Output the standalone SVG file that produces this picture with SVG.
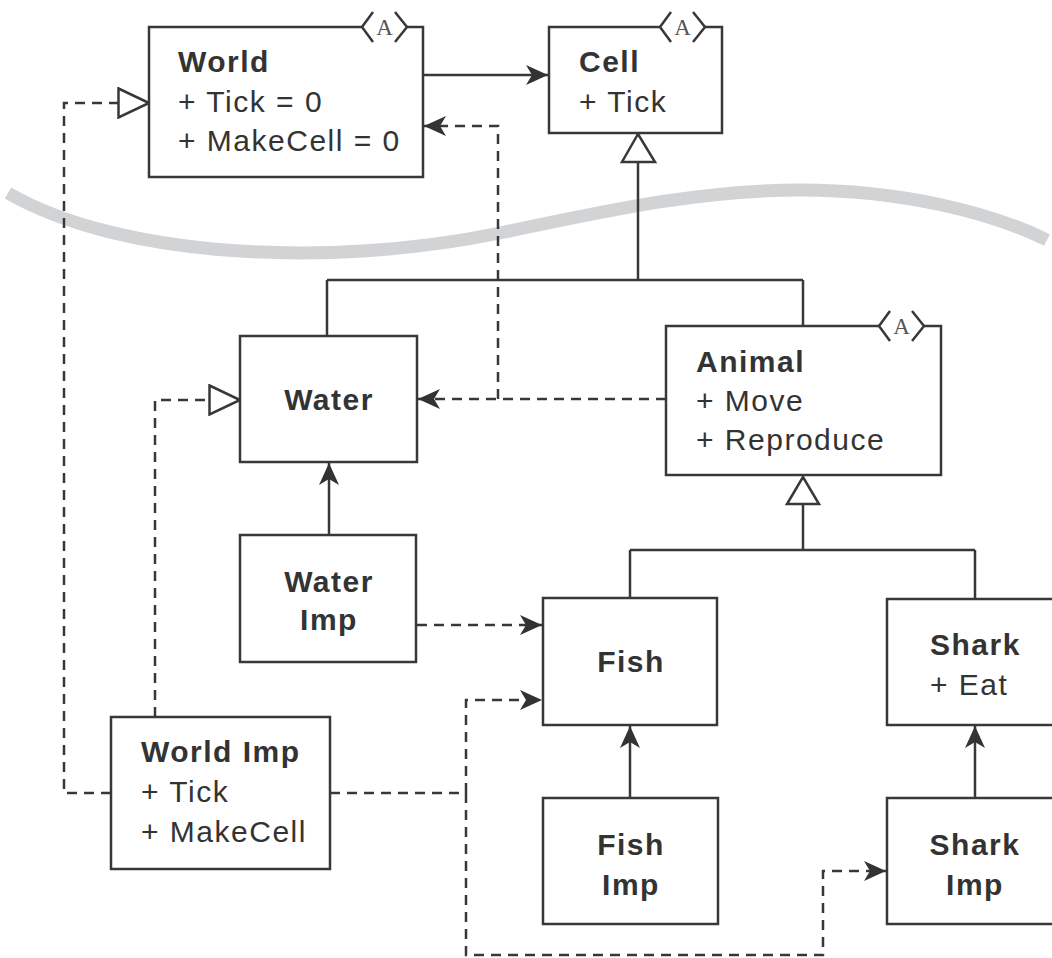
<svg xmlns="http://www.w3.org/2000/svg" width="1052" height="958" viewBox="0 0 1052 958">
<style>
.box{fill:#fff;stroke:#383838;stroke-width:2.5}
.ln{fill:none;stroke:#383838;stroke-width:2.5}
.dash{fill:none;stroke:#383838;stroke-width:2.5;stroke-dasharray:10 7}
.t{font-family:"Liberation Sans",Arial,sans-serif;font-size:30px;letter-spacing:1.5px;fill:#333}
.b{font-weight:bold}
.m{text-anchor:middle}
.abs{fill:#fff;stroke:none}
.brk{fill:none;stroke:#383838;stroke-width:2.5}
.a{font-family:"Liberation Serif","Times New Roman",serif;font-size:23px;fill:#555;text-anchor:middle}
.tri{fill:#fff;stroke:#383838;stroke-width:2.5}
</style>
<defs>
<marker id="arr" viewBox="0 0 22 20" refX="22" refY="10" markerWidth="22" markerHeight="20" markerUnits="userSpaceOnUse" orient="auto">
<path d="M0,0 L22,10 L0,20 L6,10 Z" fill="#333"/>
</marker>
<marker id="real" viewBox="0 0 34 32" refX="32" refY="16" markerWidth="34" markerHeight="32" markerUnits="userSpaceOnUse" orient="auto">
<path d="M1.5,1.5 L32,16 L1.5,30.5 Z" fill="#fff" stroke="#383838" stroke-width="2.5"/>
</marker>
</defs>
<rect width="1052" height="958" fill="#fff"/>
<path id="wave" d="M 8 193 C 120 258, 330 268, 500 233 C 610 210, 700 190, 800 190 C 900 190, 990 212, 1047 240" fill="none" stroke="#d2d3d5" stroke-width="13"/>
<g id="connectors">
<path class="ln" d="M423 75 L548 75" marker-end="url(#arr)"/>
<polygon class="tri" points="638,134 622,162 655,162"/>
<path class="ln" d="M638 162 L638 280 M327 280 L803 280 M327 280 L327 336 M803 280 L803 326"/>
<polygon class="tri" points="803,477 787,504 819,504"/>
<path class="ln" d="M803 504 L803 550 M630 550 L975 550 M630 550 L630 598 M975 550 L975 599"/>
<path class="ln" d="M329 535 L329 463" marker-end="url(#arr)"/>
<path class="ln" d="M630 798 L630 726" marker-end="url(#arr)"/>
<path class="ln" d="M975 798 L975 726" marker-end="url(#arr)"/>
<path class="dash" d="M666 399 L418 399" marker-end="url(#arr)"/>
<path class="dash" d="M498 399 L498 126 L424 126" marker-end="url(#arr)"/>
<path class="dash" d="M111 793 L64 793 L64 103 L149 103" marker-end="url(#real)"/>
<path class="dash" d="M155 717 L155 400 L240 400" marker-end="url(#real)"/>
<path class="dash" d="M417 625 L542 625" marker-end="url(#arr)"/>
<path class="dash" d="M330 793 L466 793"/>
<path class="dash" d="M466 793 L466 700 L542 700" marker-end="url(#arr)"/>
<path class="dash" d="M466 793 L466 955 L823 955 L823 871 L886 871" marker-end="url(#arr)"/>
</g>
<g id="world">
<rect class="box" x="149" y="27" width="274" height="150"/>
<polygon class="abs" points="373,12 395,12 407,27 395,42 373,42 362,27"/>
<polyline class="brk" points="373,12 362,27 373,42"/>
<polyline class="brk" points="395,12 407,27 395,42"/>
<text class="a" x="384.5" y="35">A</text>
<text class="t b" x="178" y="72">World</text>
<text class="t" x="178" y="112">+ Tick = 0</text>
<text class="t" x="178" y="151">+ MakeCell = 0</text>
</g>
<g id="cell">
<rect class="box" x="549" y="27" width="173" height="106"/>
<polygon class="abs" points="671,12 693,12 705,27 693,42 671,42 660,27"/>
<polyline class="brk" points="671,12 660,27 671,42"/>
<polyline class="brk" points="693,12 705,27 693,42"/>
<text class="a" x="682.5" y="35">A</text>
<text class="t b" x="579" y="72">Cell</text>
<text class="t" x="579" y="112">+ Tick</text>
</g>
<g id="water">
<rect class="box" x="240" y="336" width="177" height="126"/>
<text class="t b m" x="329" y="410">Water</text>
</g>
<g id="animal">
<rect class="box" x="666" y="326" width="275" height="149"/>
<polygon class="abs" points="890,311 912,311 924,326 912,341 890,341 879,326"/>
<polyline class="brk" points="890,311 879,326 890,341"/>
<polyline class="brk" points="912,311 924,326 912,341"/>
<text class="a" x="901.5" y="334">A</text>
<text class="t b" x="696" y="372">Animal</text>
<text class="t" x="696" y="411">+ Move</text>
<text class="t" x="696" y="450">+ Reproduce</text>
</g>
<g id="water-imp">
<rect class="box" x="240" y="535" width="176" height="127"/>
<text class="t b m" x="329" y="592">Water</text>
<text class="t b m" x="329" y="630">Imp</text>
</g>
<g id="fish">
<rect class="box" x="543" y="598" width="174" height="127"/>
<text class="t b m" x="631" y="672">Fish</text>
</g>
<g id="shark">
<rect class="box" x="887" y="599" width="200" height="126"/>
<text class="t b" x="930" y="655">Shark</text>
<text class="t" x="930" y="695">+ Eat</text>
</g>
<g id="world-imp">
<rect class="box" x="111" y="717" width="219" height="152"/>
<text class="t b" x="141" y="762">World Imp</text>
<text class="t" x="141" y="802">+ Tick</text>
<text class="t" x="141" y="842">+ MakeCell</text>
</g>
<g id="fish-imp">
<rect class="box" x="543" y="798" width="175" height="126"/>
<text class="t b m" x="631" y="855">Fish</text>
<text class="t b m" x="631" y="895">Imp</text>
</g>
<g id="shark-imp">
<rect class="box" x="887" y="798" width="200" height="126"/>
<text class="t b m" x="975" y="855">Shark</text>
<text class="t b m" x="975" y="895">Imp</text>
</g>
</svg>
